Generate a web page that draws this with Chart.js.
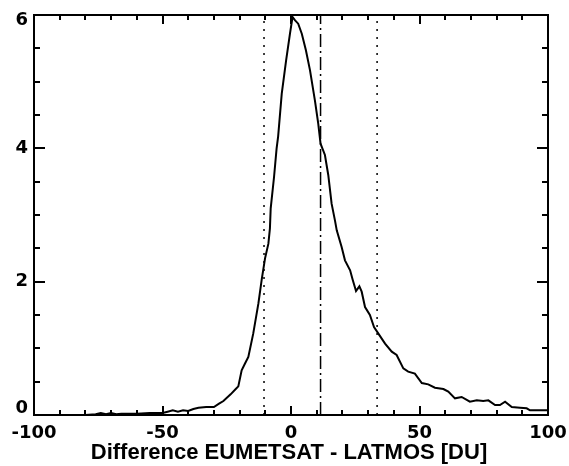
<!DOCTYPE html>
<html>
<head>
<meta charset="utf-8">
<script src="https://cdn.jsdelivr.net/npm/chart.js@4.4.1/dist/chart.umd.min.js"></script>
<style>
    html, body { margin: 0; padding: 0; background: #fff; }
    #wrap { width: 569px; height: 466px; }
</style>
</head>
<body>
<div id="wrap"><canvas id="chart" width="569" height="466"></canvas></div>
<script>
// difference histogram
const diffX = [-100, -90, -80, -76, -74, -72, -70, -68, -66, -60, -55, -50, -48, -46, -44, -42, -40, -38, -36, -33, -30,
    -28, -26.3, -23.5, -21.5, -20.5, -19.2, -17.8, -16.6, -14.7, -12.7, -11.4, -10.1, -8.8, -8.2, -7.9, -6.6, -5.6,
    -5.0, -3.6, -1.9, -0.4, 0.6, 1.6, 2.8, 4.2, 5.8, 7.4, 9.3, 10.6, 11.5, 13.2, 14.5, 15.8, 17.1, 17.8, 19.7, 21,
    23, 24, 25.3, 26.6, 27.5, 28.8, 30.7, 32.3, 34, 36.6, 39.2, 41.1, 43.7, 45.6, 48.2, 50.9, 53.4, 56, 59.3, 61.2,
    63.8, 66.4, 69.6, 72.3, 74.8, 76.8, 79.4, 81.3, 83.3, 85.9, 89.1, 91.7, 93, 100];
const diffY = [0, 0, 0, 0.01, 0.03, 0.01, 0.03, 0.01, 0.02, 0.02, 0.03, 0.03, 0.05, 0.07, 0.05, 0.07, 0.06, 0.09, 0.11, 0.12, 0.12,
    0.17, 0.21, 0.31, 0.39, 0.43, 0.67, 0.78, 0.87, 1.22, 1.67, 2.03, 2.35, 2.57, 2.8, 3.1, 3.57, 4.0,
    4.18, 4.82, 5.32, 5.72, 5.97, 5.92, 5.87, 5.72, 5.47, 5.17, 4.72, 4.37, 4.07, 3.9, 3.6, 3.17, 2.92, 2.77, 2.52, 2.32,
    2.17, 2.03, 1.86, 1.93, 1.85, 1.62, 1.5, 1.32, 1.22, 1.07, 0.95, 0.9, 0.7, 0.65, 0.62, 0.48, 0.46, 0.41, 0.39, 0.35,
    0.25, 0.27, 0.2, 0.22, 0.21, 0.22, 0.15, 0.15, 0.2, 0.12, 0.11, 0.1, 0.07, 0.07];

const meanLine = 11.5;
const sigmaLines = [-10.5, 33.5];

const xRange = [-100, 100];
const yRange = [0, 6];
const xTickLabels = [-100, -50, 0, 50, 100];
const yTickLabels = [0, 2, 4, 6];
const xMinorStep = 10;
const yMinorStep = 0.5;
const xTitle = "Difference EUMETSAT - LATMOS [DU]";

function verticalLine(x, dash) {
    return {
        data: [{ x: x, y: yRange[0] }, { x: x, y: yRange[1] }],
        borderColor: "#000",
        borderWidth: 1.5,
        borderDash: dash,
        pointRadius: 0,
        showLine: true,
    };
}

const framePlugin = {
    id: "frame",
    afterDraw(chart) {
        const { ctx, chartArea: a, scales } = chart;
        const xs = scales.x, ys = scales.y;
        ctx.save();
        ctx.strokeStyle = "#000";
        ctx.lineWidth = 2;
        ctx.strokeRect(a.left, a.top, a.right - a.left, a.bottom - a.top);

        // inward ticks on all four sides
        ctx.beginPath();
        for (let v = xRange[0]; v <= xRange[1] + 1e-9; v += xMinorStep) {
            const px = Math.round(xs.getPixelForValue(v));
            const len = v % 50 === 0 ? 9 : 5;
            ctx.moveTo(px, a.bottom); ctx.lineTo(px, a.bottom - len);
            ctx.moveTo(px, a.top); ctx.lineTo(px, a.top + len);
        }
        for (let v = yRange[0]; v <= yRange[1] + 1e-9; v += yMinorStep) {
            const py = Math.round(ys.getPixelForValue(v));
            const len = v % 2 === 0 ? 11 : 6;
            ctx.moveTo(a.left, py); ctx.lineTo(a.left + len, py);
            ctx.moveTo(a.right, py); ctx.lineTo(a.right - len, py);
        }
        ctx.stroke();

        ctx.fillStyle = "#000";
        ctx.font = "bold 18px 'DejaVu Sans'";
        ctx.textBaseline = "middle";
        ctx.textAlign = "right";
        yTickLabels.forEach((v) => {
            const py = Math.min(Math.max(ys.getPixelForValue(v), a.top + 5), a.bottom - 7);
            ctx.fillText(String(v), a.left - 6, py);
        });
        ctx.textAlign = "center";
        xTickLabels.forEach((v) => {
            ctx.fillText(String(v), xs.getPixelForValue(v), a.bottom + 18);
        });
        ctx.font = "bold 22px 'Liberation Sans'";
        ctx.fillText(xTitle, (a.left + a.right) / 2 - 2, a.bottom + 38);
        ctx.restore();
    },
};

new Chart(document.getElementById("chart"), {
    type: "scatter",
    data: {
        datasets: [
            {
                data: diffX.map((x, i) => ({ x: x, y: diffY[i] })),
                borderColor: "#000",
                borderWidth: 2,
                pointRadius: 0,
                showLine: true,
                tension: 0,
            },
            verticalLine(sigmaLines[0], [2, 6]),
            verticalLine(meanLine, [13, 4, 2, 4]),
            verticalLine(sigmaLines[1], [2, 6]),
        ],
    },
    options: {
        responsive: false,
        animation: false,
        devicePixelRatio: 1,
        layout: { padding: { left: 34, right: 21, top: 15, bottom: 51 } },
        plugins: { legend: { display: false }, tooltip: { enabled: false } },
        scales: {
            x: { type: "linear", min: xRange[0], max: xRange[1], display: false },
            y: { type: "linear", min: yRange[0], max: yRange[1], display: false },
        },
    },
    plugins: [framePlugin],
});
</script>
</body>
</html>
